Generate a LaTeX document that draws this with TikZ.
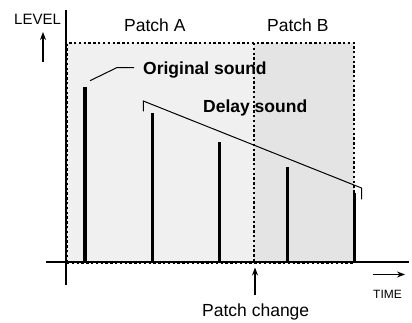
\documentclass[tikz,border=0pt]{standalone}
\usepackage{fontspec}
\setmainfont{Liberation Sans}
\usetikzlibrary{arrows.meta}
\definecolor{pA}{HTML}{F0F0F0}
\definecolor{pB}{HTML}{E4E4E4}
\begin{document}
\begin{tikzpicture}[x=1pt,y=-1pt,
  lbl/.style={inner sep=0pt,anchor=base west,text=black},
  big/.style={lbl,font=\fontsize{17.5}{20}\selectfont},
  bigb/.style={lbl,font=\fontsize{17.5}{20}\selectfont\bfseries},
  small/.style={lbl,font=\fontsize{15}{17}\selectfont},
  tiny/.style={lbl,font=\fontsize{12}{14}\selectfont},
  dsh/.style={line width=1.3pt,dash pattern=on 2.4pt off 2.4pt},
  ax/.style={line width=1.3pt},
  bar/.style={line width=2.6pt},
  arr/.style={line width=1.2pt,-{Stealth[length=8pt,width=6pt]}}]
\useasboundingbox (0,0) rectangle (412,323);
% patch regions
\fill[pA] (67,43) rectangle (254,262);
\fill[pB] (254,43) rectangle (354,262);
\draw[dsh] (67.5,262) -- (67.5,43) -- (354,43) -- (354,262);
\draw[dsh] (254,43) -- (254,262);
\draw[dsh] (67,263.5) -- (354,263.5);
% axes
\coordinate (yb) at (66,285); \coordinate (yt) at (66,10);
\coordinate (xl) at (46,262); \coordinate (xr) at (409,262);
\draw[ax] (yb) -- (yt);
\draw[ax] (xl) -- (xr);
% bars
\draw[line width=4.2pt] (84.7,262) -- (84.7,87);
\draw[bar] (152.7,262) -- (152.7,113);
\draw[bar] (219.5,262) -- (219.5,142.5);
\draw[bar] (287.7,262) -- (287.7,167);
\draw[bar] (354.3,262) -- (354.3,193);
% bracket
\coordinate (b1) at (143.3,111.5); \coordinate (b2) at (143.3,101);
\coordinate (b3) at (361.5,188); \coordinate (b4) at (361.5,199.5);
\draw[line width=1pt] (b1) -- (b2) -- (b3) -- (b4);
% leader
\coordinate (l1) at (90,80.7); \coordinate (l2) at (116.7,67.7); \coordinate (l3) at (134,67.7);
\draw[line width=1pt] (l1) -- (l2) -- (l3);
% labels
\node[bigb] (orig) at (143,75) {Original sound};
\node[bigb] (delay) at (203,113) {Delay sound};
\node[big] (pa) at (124,32) {Patch A};
\node[big] (pb) at (267,32) {Patch B};
\node[big] (pc) at (202,316) {Patch change};
\node[small] (lev) at (14,25) {LEVEL};
\node[tiny] (tim) at (373,298) {TIME};
% arrows
\coordinate (la1) at (43,62); \coordinate (la2) at (43,32);
\draw[arr] (la1) -- (la2);
\coordinate (ta1) at (373,274.5); \coordinate (ta2) at (405,274.5);
\draw[arr] (ta1) -- (ta2);
\coordinate (pa1) at (255,295); \coordinate (pa2) at (255,267.5);
\draw[arr] (pa1) -- (pa2);
\end{tikzpicture}
\end{document}
